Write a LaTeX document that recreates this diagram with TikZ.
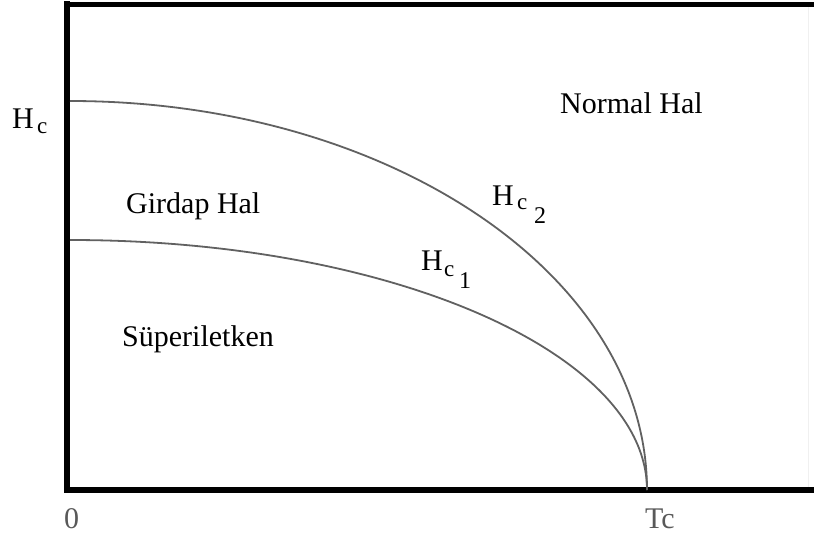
\documentclass[tikz,border=0pt]{standalone}
\usepackage{fontspec}
\setmainfont{Liberation Serif}
\begin{document}
\begin{tikzpicture}[x=1pt,y=-1pt,
  lbl/.style={inner sep=0pt,anchor=base west,font=\fontsize{30}{36}\selectfont},
  sub/.style={inner sep=0pt,anchor=base west,font=\fontsize{24}{28}\selectfont},
  subc/.style={inner sep=0pt,anchor=base west,font=\fontsize{23}{28}\selectfont},
  axis/.style={line width=6pt,black},
  curve/.style={line width=1.8pt,black!62}]
\useasboundingbox (0,0) rectangle (814,538);
\fill[white] (0,0) rectangle (814,538);
% faint right border
\draw[black!6,line width=1pt] (808,7) -- (808,487);
% axes
\coordinate (tl) at (67,2);
\coordinate (bl) at (67,490);
\coordinate (br) at (814,490);
\coordinate (tr) at (814,4);
\draw[axis] (67,1) -- (bl);
\draw[axis,line width=5pt] (64,4) -- (tr);
\draw[axis] (64,490) -- (br);
% curves
\coordinate (h2s) at (70,101);
\coordinate (h1s) at (70,240);
\draw[curve] (h2s) arc[start angle=-90,end angle=0,x radius=577,y radius=389];
\draw[curve] (h1s) arc[start angle=-90,end angle=0,x radius=577,y radius=250];
% labels
\node[lbl] (normal) at (560,113) {Normal Hal};
\node[lbl] (girdap) at (126,213) {Girdap Hal};
\node[lbl] (super) at (122,346) {Süperiletken};
\node[lbl] (hcH) at (12,128) {H};
\node[subc] (hcc) at (37,133) {c};
\node[lbl] (h2H) at (492,205) {H};
\node[subc] (h2c) at (517,209) {c};
\node[sub] (h2n) at (534,223) {2};
\node[lbl] (h1H) at (421,270) {H};
\node[subc] (h1c) at (444,276) {c};
\node[sub] (h1n) at (459,288) {1};
\node[lbl,text=black!65] (zero) at (64,528) {0};
\node[lbl,text=black!65] (tc) at (645,528) {Tc};
\end{tikzpicture}
\end{document}
